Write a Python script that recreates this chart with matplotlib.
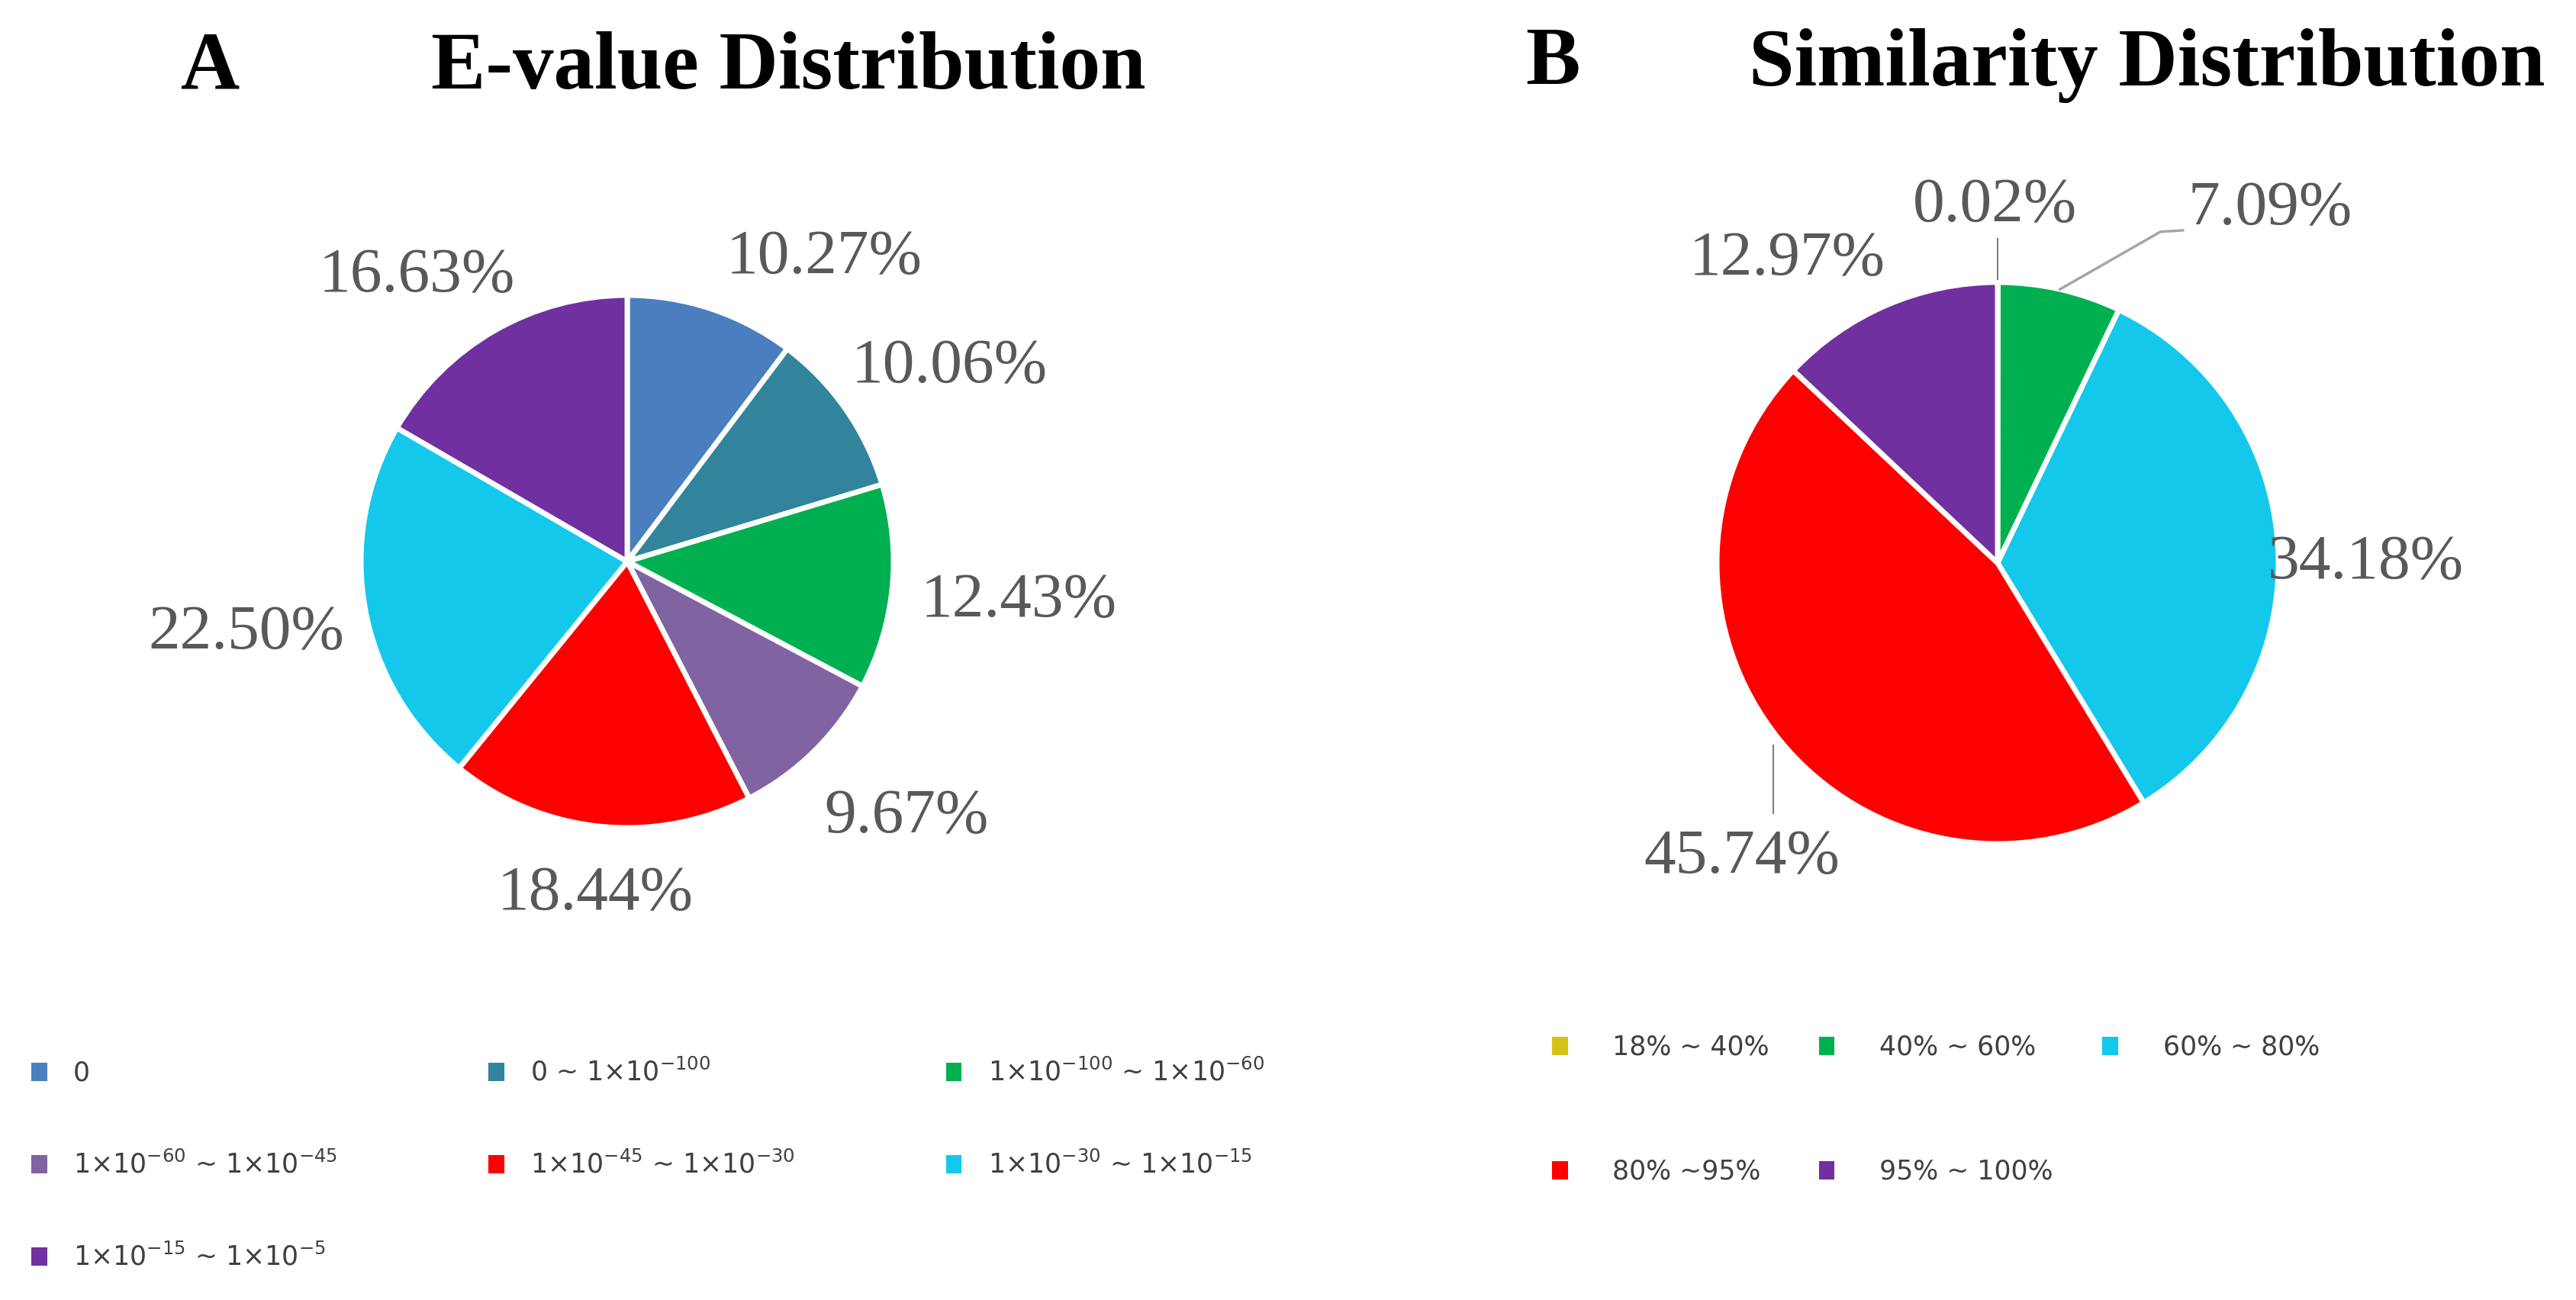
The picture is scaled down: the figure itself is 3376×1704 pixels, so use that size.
import matplotlib
matplotlib.use("Agg")
import matplotlib.pyplot as plt
import numpy as np

# data
evalue_labels = [r"0",
                 r"0 ~ 1×10$^{-100}$",
                 r"1×10$^{-100}$ ~ 1×10$^{-60}$",
                 r"1×10$^{-60}$ ~ 1×10$^{-45}$",
                 r"1×10$^{-45}$ ~ 1×10$^{-30}$",
                 r"1×10$^{-30}$ ~ 1×10$^{-15}$",
                 r"1×10$^{-15}$ ~ 1×10$^{-5}$"]
evalue_pct = [10.27, 10.06, 12.43, 9.67, 18.44, 22.50, 16.63]
evalue_colors = ["#4A7EBF", "#31849B", "#00B050", "#8064A2", "#FF0000", "#14C8EB", "#7030A0"]

sim_labels = ["18% ~ 40%", "40% ~ 60%", "60% ~ 80%", "80% ~95%", "95% ~ 100%"]
sim_pct = [0.02, 7.09, 34.18, 45.74, 12.97]
sim_colors = ["#D4C41A", "#00B050", "#14C8EB", "#FF0000", "#7030A0"]

# label placement (in pie-radius units)
evalue_lab_pos = [(0.74, 1.14), (1.21, 0.73), (1.47, -0.15), (1.05, -0.96),
                  (-0.12, -1.25), (-1.43, -0.27), (-0.79, 1.07)]
sim_lab_pos = [(-0.01, 1.27), (0.97, 1.26), (1.31, 0.0), (-0.91, -1.05), (-0.75, 1.08)]

W, H = 3376, 1704
fig = plt.figure(figsize=(W / 100, H / 100), dpi=100)

grey = "#595959"
lab_font = dict(family=["Liberation Serif", "DejaVu Serif"], size=60, color=grey)
title_font = dict(family=["Liberation Serif", "DejaVu Serif"], size=77, weight="bold", color="black")
LIM = 1.6


def pie_axes(cx, cy, r):
    side = 2 * LIM * r
    ax = fig.add_axes([(cx - side / 2) / W, (H - cy - side / 2) / H, side / W, side / H])
    ax.axis("off")
    return ax


def fix_lims(ax):
    ax.set_xlim(-LIM, LIM)
    ax.set_ylim(-LIM, LIM)
    ax.set_aspect("equal")


# ---- A
axA = pie_axes(822, 736, 349)
wedA, _ = axA.pie(evalue_pct, colors=evalue_colors, startangle=90, counterclock=False,
                  wedgeprops=dict(edgecolor="white", linewidth=5))
fix_lims(axA)
for p, (x, y) in zip(evalue_pct, evalue_lab_pos):
    axA.text(x, y, "%.2f%%" % p, ha="center", va="center", clip_on=False, **lab_font)

# ---- B
axB = pie_axes(2618, 738, 368)
wedB, _ = axB.pie(sim_pct, colors=sim_colors, startangle=90, counterclock=False,
                  wedgeprops=dict(edgecolor="white", linewidth=5))
fix_lims(axB)
for p, (x, y) in zip(sim_pct, sim_lab_pos):
    axB.text(x, y, "%.2f%%" % p, ha="center", va="center", clip_on=False, **lab_font)

# leader lines
def mid_angle(w):
    return np.deg2rad((w.theta1 + w.theta2) / 2)

a = mid_angle(wedB[0])
axB.plot([1.01 * np.cos(a), 1.01 * np.cos(a)], [1.01 * np.sin(a), 1.155], color="#7f7f7f", lw=1.5)
a = mid_angle(wedB[1])
axB.plot([1.0 * np.cos(a), 0.58, 0.66], [1.0 * np.sin(a), 1.18, 1.185], color="#a6a6a6", lw=2.5)
a = mid_angle(wedB[3])
axB.plot([1.03 * np.cos(a), 1.03 * np.cos(a)], [1.03 * np.sin(a), -0.89], color="#7f7f7f", lw=1.5)

# titles
fig.text(276 / W, 1 - 90 / H, "A", ha="center", va="center", **title_font)
fig.text(1033 / W, 1 - 90 / H, "E-value Distribution", ha="center", va="center", **title_font)
fig.text(2035 / W, 1 - 84 / H, "B", ha="center", va="center", **title_font)
fig.text(2814 / W, 1 - 86 / H, "Similarity Distribution", ha="center", va="center", **title_font)

# legends (row-major order like the reference)
leg_font = dict(family=["Liberation Sans Narrow", "DejaVu Sans"], size=25)
orderA = [0, 3, 6, 1, 4, 2, 5]
legA = fig.legend([wedA[i] for i in orderA], [evalue_labels[i] for i in orderA], loc="upper left",
                  bbox_to_anchor=(37 / W, 1 - 1404 / H, 1620 / W, 0.01), mode="expand",
                  ncol=3, frameon=False, prop=leg_font, handlelength=0.8, handleheight=1.0,
                  handletextpad=0.9, labelspacing=2.45, borderpad=0, borderaxespad=0)
for t in legA.get_texts():
    t.set_color("#404040")
orderB = [0, 3, 1, 4, 2]
legB = fig.legend([wedB[i] for i in orderB], [sim_labels[i] for i in orderB], loc="upper left",
                  bbox_to_anchor=(2030 / W, 1 - 1372 / H, 1010 / W, 0.01), mode="expand",
                  ncol=3, frameon=False, prop=leg_font, handlelength=0.8, handleheight=1.0,
                  handletextpad=1.6, labelspacing=3.7, borderpad=0, borderaxespad=0)
for t in legB.get_texts():
    t.set_color("#404040")

fig.savefig("out.png", dpi=100)
plt.close(fig)
